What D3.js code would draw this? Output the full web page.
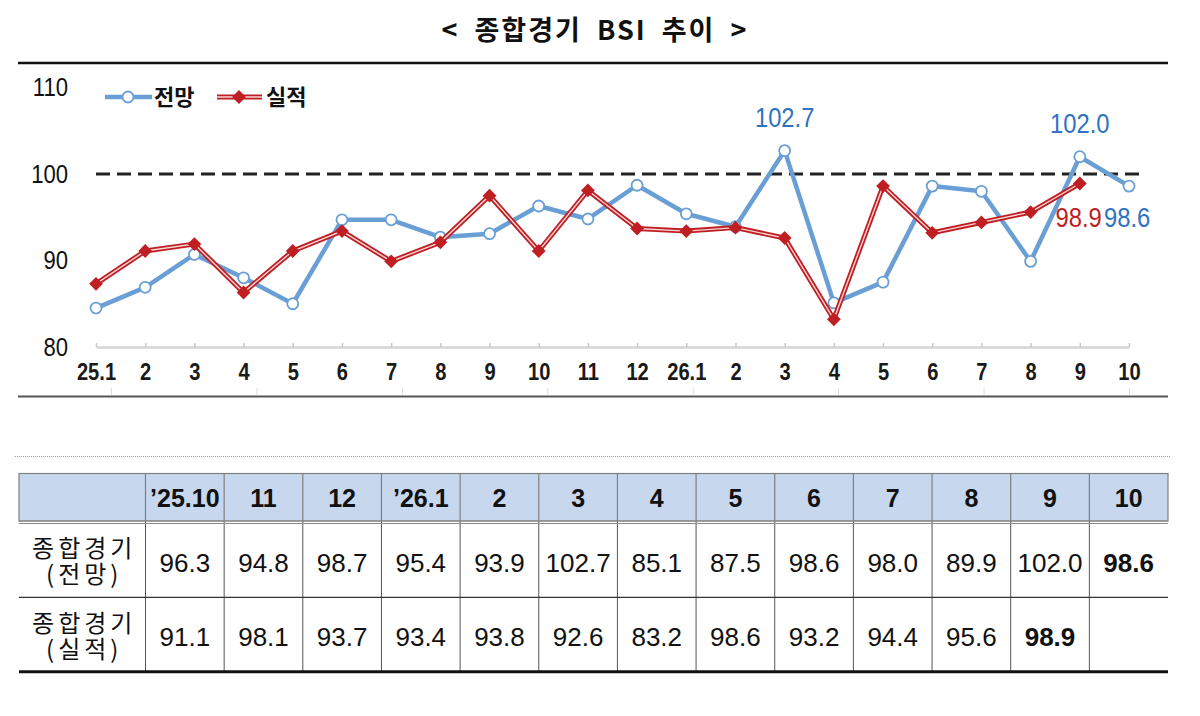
<!DOCTYPE html>
<html>
<head>
<meta charset="utf-8">
<script src="https://cdn.jsdelivr.net/npm/d3@7"></script>
<style>
  body { margin: 0; background: #fff; }
  svg { display: block; }
</style>
</head>
<body>
<div id="chart"></div>
<script>
// monthly series, 25.1 .. 26.10
const months = ["25.1", "25.2", "25.3", "25.4", "25.5", "25.6", "25.7", "25.8", "25.9", "25.10", "25.11", "25.12",
    "26.1", "26.2", "26.3", "26.4", "26.5", "26.6", "26.7", "26.8", "26.9", "26.10"];
const tickLabels = ["25.1", "2", "3", "4", "5", "6", "7", "8", "9", "10", "11", "12",
    "26.1", "2", "3", "4", "5", "6", "7", "8", "9", "10"];
const outlook = [84.5, 86.9, 90.7, 88.0, 85.0, 94.7, 94.7, 92.7, 93.1, 96.3, 94.8, 98.7,
    95.4, 93.9, 102.7, 85.1, 87.5, 98.6, 98.0, 89.9, 102.0, 98.6];
const actual = [87.3, 91.1, 91.9, 86.3, 91.1, 93.4, 89.9, 92.1, 97.5, 91.1, 98.1, 93.7,
    93.4, 93.8, 92.6, 83.2, 98.6, 93.2, 94.4, 95.6, 98.9];
const yTicks = [80, 90, 100, 110];

// table below the chart (last 13 months)
const tableCols = ["’25.10", "11", "12", "’26.1", "2", "3", "4", "5", "6", "7", "8", "9", "10"];
const rowLabels = [["종합경기", "(전망)"], ["종합경기", "(실적)"]];

const SANS = "'Liberation Sans',Arial,sans-serif";
const KR = "'Noto Sans CJK KR','Noto Sans',sans-serif";
const BLUE = "#6a9fd6", BLUE_TXT = "#2f73c2", RED = "#bf1e22";
const SQUEEZE = "scale(0.85,1)";   // narrow look of the original chart font

const svg = d3.select("#chart").append("svg")
    .attr("width", 1200)
    .attr("height", 716);

// title
svg.append("text")
    .attr("x", 595).attr("y", 40)
    .attr("text-anchor", "middle")
    .style("font-family", KR).style("font-size", "27px").style("font-weight", "bold")
    .style("letter-spacing", "2px").style("word-spacing", "7px")
    .attr("fill", "#111")
    .text("< 종합경기 BSI 추이 >");

svg.append("line")
    .attr("x1", 18).attr("x2", 1168).attr("y1", 63).attr("y2", 63)
    .attr("stroke", "#111").attr("stroke-width", 2.5);
svg.append("line")
    .attr("x1", 18).attr("x2", 1168).attr("y1", 396.5).attr("y2", 396.5)
    .attr("stroke", "#555").attr("stroke-width", 2);

// scales
const x = d3.scalePoint().domain(months).range([96, 1129]);
const y = d3.scaleLinear().domain([80, 110]).range([347, 87.5]);

// y axis (labels only)
const yAxis = svg.append("g")
    .attr("transform", "translate(68,0)")
    .call(d3.axisLeft(y).tickValues(yTicks).tickSize(0).tickPadding(0));
yAxis.select(".domain").remove();
yAxis.selectAll("text")
    .attr("transform", SQUEEZE)
    .style("font-family", SANS).style("font-size", "26px").attr("fill", "#111");

// x axis
const xAxis = svg.append("g")
    .attr("transform", `translate(0,${y(80)})`)
    .call(d3.axisBottom(x).tickSizeInner(-4).tickSizeOuter(0).tickPadding(16)
        .tickFormat((d, i) => tickLabels[i]));
xAxis.select(".domain").attr("stroke", "#d4d4d4").attr("stroke-width", 2.5);
xAxis.selectAll(".tick line").attr("stroke", "#c8c8c8").attr("stroke-width", 1.5);
xAxis.selectAll("text")
    .attr("transform", "scale(0.84,1)")
    .style("font-family", SANS).style("font-size", "24px").style("font-weight", "bold")
    .attr("fill", "#1a1a1a");

// faint secondary ticks below the labels
const x2 = d3.scaleLinear().domain([0, 7]).range([111, 1129]);
const x2Axis = svg.append("g")
    .attr("transform", "translate(0,388)")
    .call(d3.axisBottom(x2).ticks(7).tickSize(7).tickFormat(""));
x2Axis.select(".domain").remove();
x2Axis.selectAll(".tick line").attr("stroke", "#dcdcdc").attr("stroke-width", 1);

// 100 reference line
svg.append("line")
    .attr("x1", x(months[0])).attr("x2", x(months[months.length - 1]) + 11)
    .attr("y1", y(100)).attr("y2", y(100))
    .attr("stroke", "#222").attr("stroke-width", 3)
    .attr("stroke-dasharray", "14,7");

const line = d3.line()
    .x((d, i) => x(months[i]))
    .y(d => y(d));

// 전망 series
svg.append("path")
    .datum(outlook)
    .attr("d", line)
    .attr("fill", "none").attr("stroke", BLUE).attr("stroke-width", 4.5)
    .attr("stroke-linejoin", "round");
svg.selectAll(".dot-o")
    .data(outlook)
    .enter().append("circle")
    .attr("class", "dot-o")
    .attr("cx", (d, i) => x(months[i]))
    .attr("cy", d => y(d))
    .attr("r", 5.5)
    .attr("fill", "#fff").attr("stroke", BLUE).attr("stroke-width", 1.8);

// 실적 series (double line)
svg.append("path")
    .datum(actual)
    .attr("d", line)
    .attr("fill", "none").attr("stroke", RED).attr("stroke-width", 5)
    .attr("stroke-linejoin", "miter");
svg.append("path")
    .datum(actual)
    .attr("d", line)
    .attr("fill", "none").attr("stroke", "#f6d4d4").attr("stroke-width", 1.4);
const diamond = d3.symbol().type(d3.symbolSquare).size(95);
svg.selectAll(".dot-a")
    .data(actual)
    .enter().append("path")
    .attr("class", "dot-a")
    .attr("d", diamond)
    .attr("transform", (d, i) => `translate(${x(months[i])},${y(d)}) rotate(45)`)
    .attr("fill", RED);

// value labels
const iPeak1 = months.indexOf("26.3"), iPeak2 = months.indexOf("26.9");
const iLastO = outlook.length - 1, iLastA = actual.length - 1;
const labels = [
    { x: x(months[iPeak1]), y: y(outlook[iPeak1]) - 24, v: outlook[iPeak1], c: BLUE_TXT, a: "middle" },
    { x: x(months[iPeak2]), y: y(outlook[iPeak2]) - 24, v: outlook[iPeak2], c: BLUE_TXT, a: "middle" },
    { x: x(months[iLastA]) + 22, y: y(actual[iLastA]) + 43, v: actual[iLastA], c: RED, a: "end" },
    { x: x(months[iLastO]) - 25, y: y(outlook[iLastO]) + 41, v: outlook[iLastO], c: BLUE_TXT, a: "start" }
];
svg.selectAll(".vlab")
    .data(labels)
    .enter().append("text")
    .attr("class", "vlab")
    .attr("transform", d => `translate(${d.x},${d.y}) ${SQUEEZE}`)
    .attr("text-anchor", d => d.a)
    .attr("fill", d => d.c)
    .style("font-family", SANS).style("font-size", "28px")
    .text(d => d.v.toFixed(1));

// legend
const legend = [
    { name: "전망", x: 105, color: BLUE, type: "o" },
    { name: "실적", x: 217, color: RED, type: "a" }
];
legend.forEach(l => {
    const g = svg.append("g").attr("transform", `translate(${l.x},97)`);
    if (l.type === "o") {
        g.append("line").attr("x1", 0).attr("x2", 47)
            .attr("stroke", l.color).attr("stroke-width", 4.5);
        g.append("circle").attr("cx", 23).attr("r", 5.5)
            .attr("fill", "#fff").attr("stroke", l.color).attr("stroke-width", 1.8);
    } else {
        g.append("line").attr("x1", 0).attr("x2", 45)
            .attr("stroke", l.color).attr("stroke-width", 5);
        g.append("line").attr("x1", 0).attr("x2", 45)
            .attr("stroke", "#f6d4d4").attr("stroke-width", 1.4);
        g.append("path").attr("d", diamond).attr("transform", "translate(22,0) rotate(45)")
            .attr("fill", l.color);
    }
    g.append("text")
        .attr("x", 49).attr("y", 8)
        .style("font-family", KR).style("font-size", "22px").style("font-weight", "bold")
        .attr("fill", "#111")
        .text(l.name);
});

// dotted separator
svg.append("line")
    .attr("x1", 15).attr("x2", 1170).attr("y1", 456.5).attr("y2", 456.5)
    .attr("stroke", "#9a9a9a").attr("stroke-width", 1).attr("stroke-dasharray", "1,1");

// table
const tLeft = 19, tRight = 1168;
const col = d3.scaleBand().domain(tableCols).range([145.5, tRight]);
const headTop = 473.5, headBot = 521, rowTops = [523, 597.3], rowH = 74.4;
const tableRows = [outlook.slice(-13), actual.slice(-12)];

svg.append("rect")
    .attr("x", tLeft).attr("y", headTop)
    .attr("width", tRight - tLeft).attr("height", headBot - headTop)
    .attr("fill", "#c6d7ee").attr("stroke", "#808080").attr("stroke-width", 1.2);

svg.selectAll(".hline")
    .data(tableCols)
    .enter().append("line")
    .attr("x1", d => col(d)).attr("x2", d => col(d))
    .attr("y1", headTop).attr("y2", headBot)
    .attr("stroke", "#808080").attr("stroke-width", 1.2);

svg.selectAll(".bline")
    .data(tableCols)
    .enter().append("line")
    .attr("x1", d => col(d)).attr("x2", d => col(d))
    .attr("y1", headBot).attr("y2", rowTops[1] + rowH)
    .attr("stroke", "#555").attr("stroke-width", 1);

// header double line, row separator, bottom rule
svg.append("line").attr("x1", tLeft).attr("x2", tRight).attr("y1", headBot).attr("y2", headBot)
    .attr("stroke", "#8a8a8a").attr("stroke-width", 1.2);
svg.append("line").attr("x1", tLeft).attr("x2", tRight).attr("y1", headBot + 2.5).attr("y2", headBot + 2.5)
    .attr("stroke", "#8a8a8a").attr("stroke-width", 1);
svg.append("line").attr("x1", tLeft).attr("x2", tRight).attr("y1", rowTops[1]).attr("y2", rowTops[1])
    .attr("stroke", "#333").attr("stroke-width", 1.2);
svg.append("line").attr("x1", tLeft).attr("x2", tRight)
    .attr("y1", rowTops[1] + rowH).attr("y2", rowTops[1] + rowH)
    .attr("stroke", "#111").attr("stroke-width", 3);

svg.selectAll(".htext")
    .data(tableCols)
    .enter().append("text")
    .attr("x", d => col(d) + col.bandwidth() / 2)
    .attr("y", (headTop + headBot) / 2 + 9.5)
    .attr("text-anchor", "middle")
    .style("font-family", SANS).style("font-size", "25px").style("font-weight", "bold")
    .attr("fill", "#111")
    .text(d => d);

tableRows.forEach((vals, r) => {
    const mid = rowTops[r] + rowH / 2;
    svg.selectAll(".v" + r)
        .data(vals)
        .enter().append("text")
        .attr("x", (d, i) => col(tableCols[i]) + col.bandwidth() / 2)
        .attr("y", mid + 11.5)
        .attr("text-anchor", "middle")
        .style("font-family", SANS).style("font-size", "26px")
        .style("font-weight", (d, i) => i === vals.length - 1 ? "bold" : "normal")
        .attr("fill", "#111")
        .text(d => d.toFixed(1));

    // two-line row label in a single text element
    const lab = svg.append("text")
        .attr("text-anchor", "middle")
        .style("font-family", KR).style("font-size", "24px")
        .style("letter-spacing", "4px")
        .attr("fill", "#111");
    rowLabels[r].forEach((t, k) => {
        lab.append("tspan")
            .attr("x", (tLeft + 145.5) / 2 + 2)
            .attr("y", mid - 3 + k * 26)
            .text(t);
    });
});
</script>
</body>
</html>
